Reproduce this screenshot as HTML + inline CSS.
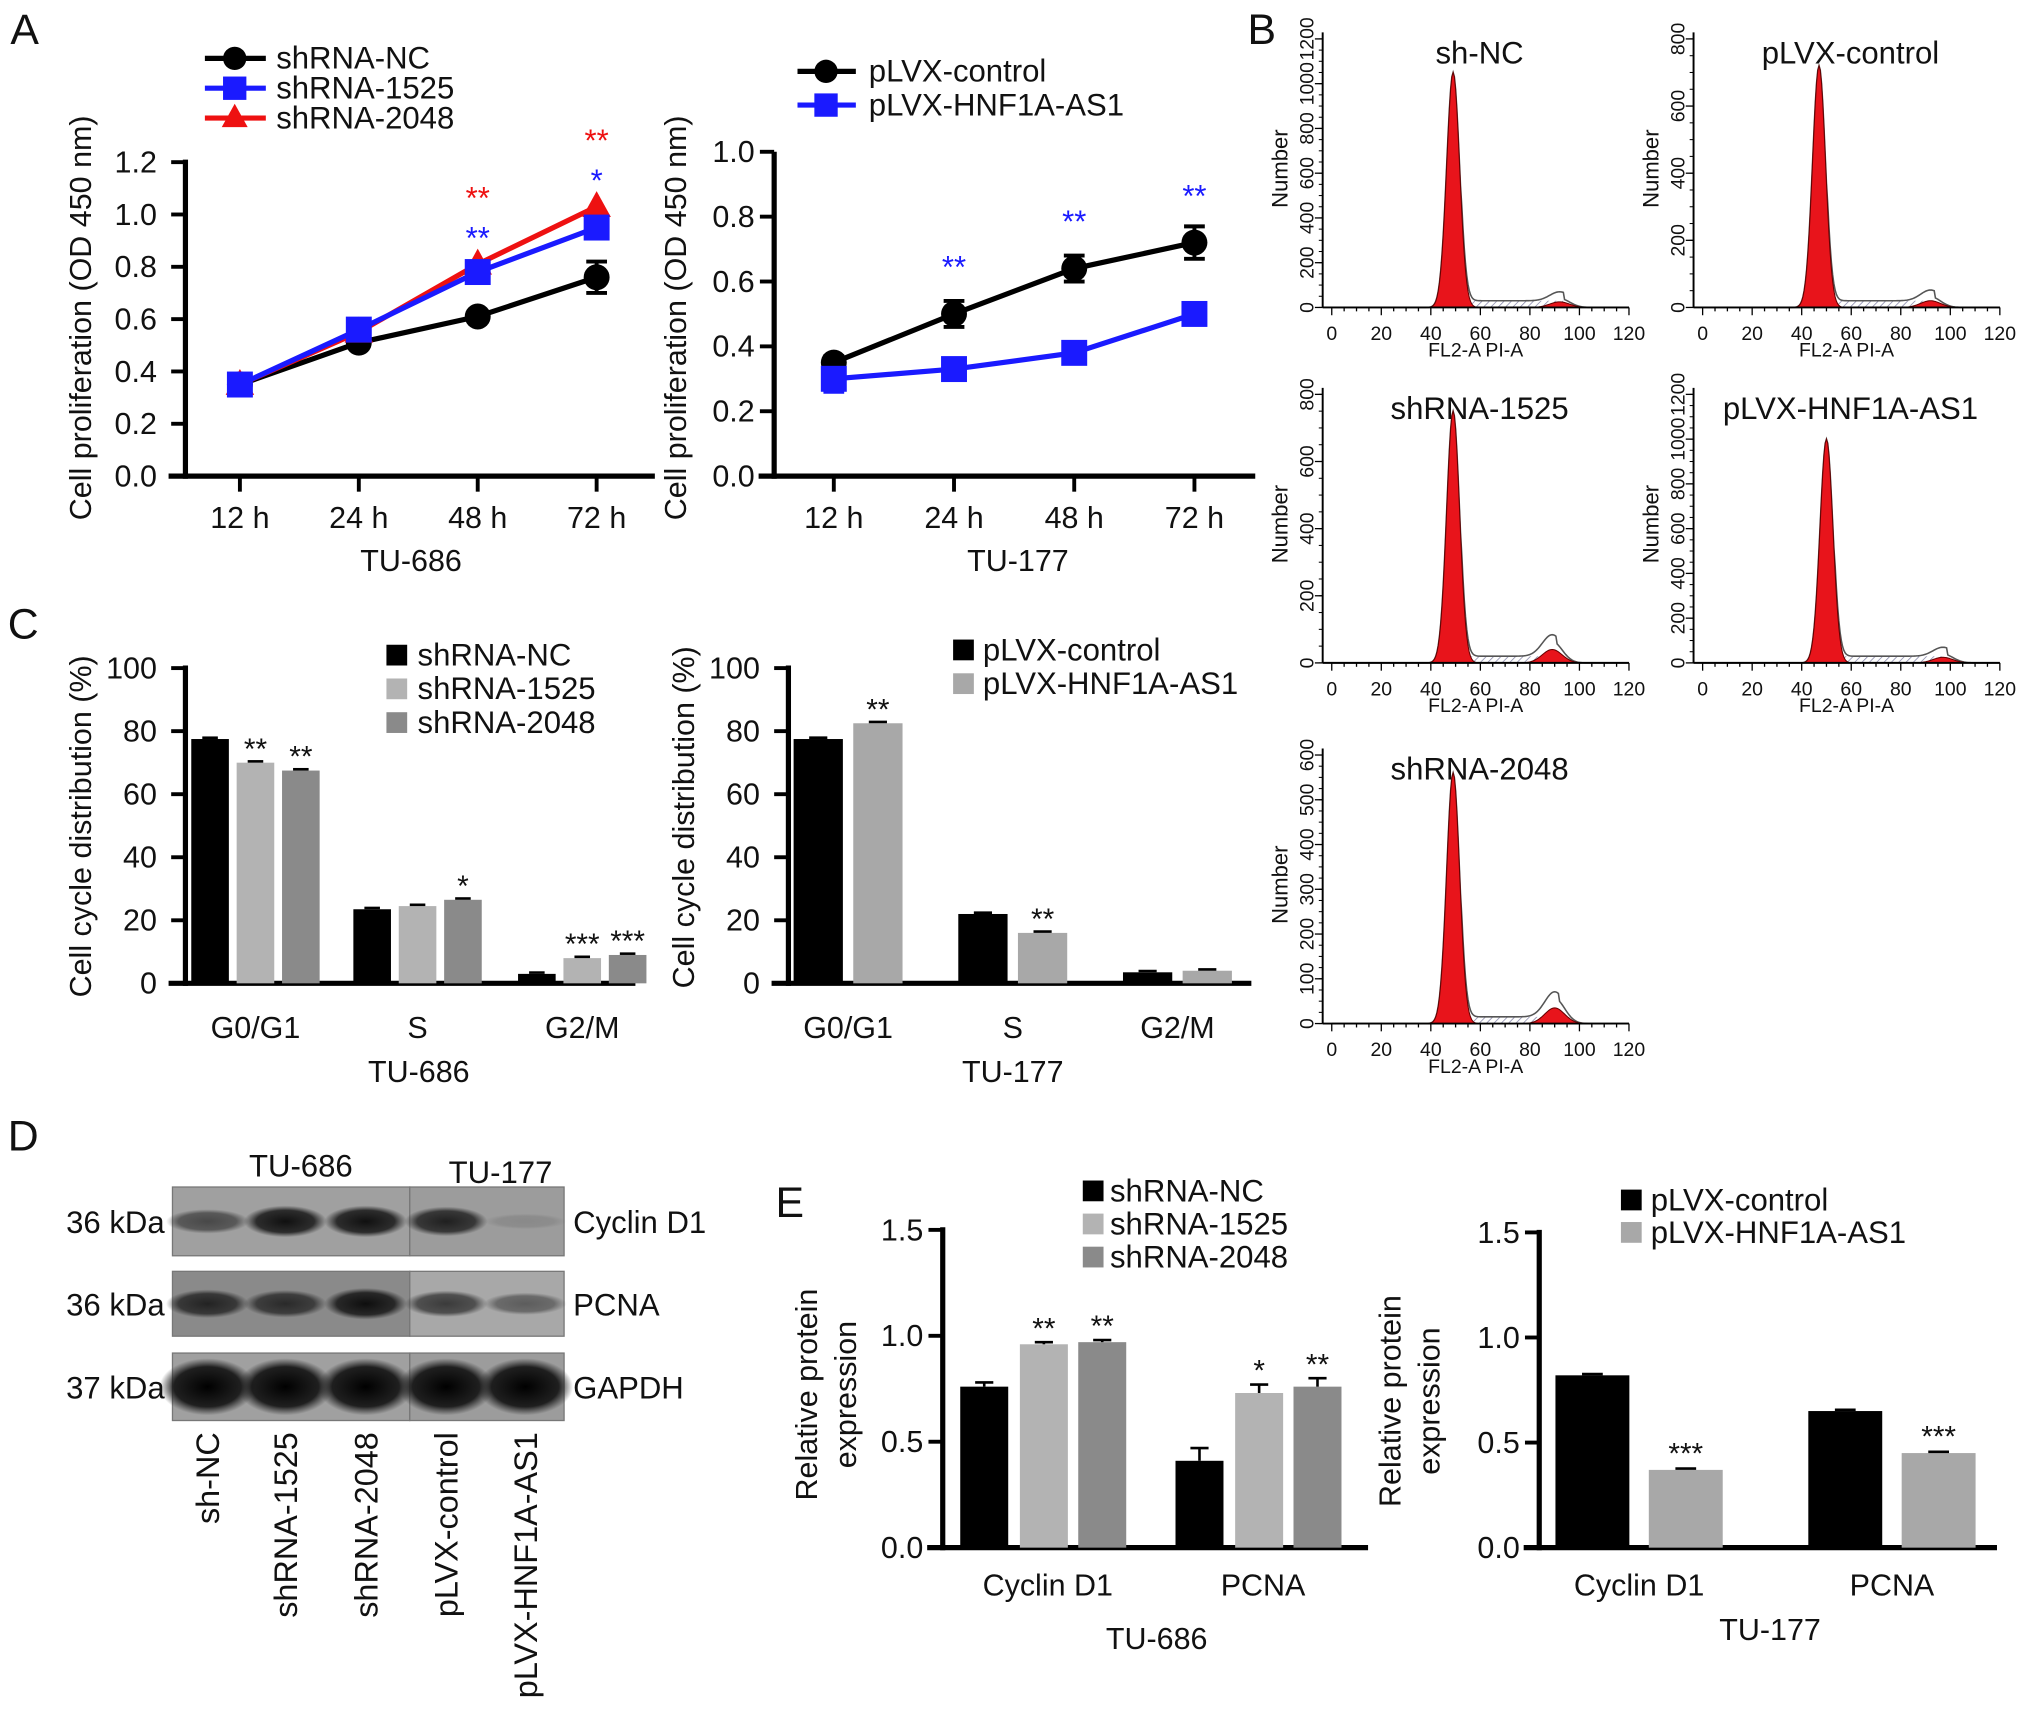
<!DOCTYPE html>
<html><head><meta charset="utf-8">
<style>
html,body{margin:0;padding:0;background:#fff;}
svg{display:block;font-family:"Liberation Sans",Arial,sans-serif;}
</style></head>
<body>
<svg id="fig" width="2032" height="1715" viewBox="0 0 1567 1322" preserveAspectRatio="none" xmlns="http://www.w3.org/2000/svg">
<defs>
<radialGradient id="band" cx="50%" cy="50%" r="50%">
<stop offset="0%" stop-color="#000" stop-opacity="1"/>
<stop offset="70%" stop-color="#111" stop-opacity="0.9"/>
<stop offset="100%" stop-color="#222" stop-opacity="0"/>
</radialGradient>
<pattern id="hatch" width="4" height="4" patternUnits="userSpaceOnUse" patternTransform="rotate(45)">
<rect width="4" height="4" fill="#fff"/><line x1="0" y1="0" x2="0" y2="4" stroke="#8888aa" stroke-width="1.2"/>
</pattern>
</defs>
<rect x="0" y="0" width="1567" height="1322" fill="#fff"/>
</svg>
<script>
// ---- Panel A data ----
const timeCats = ["12 h","24 h","48 h","72 h"];
const aTicksL = [0,0.2,0.4,0.6,0.8,1.0,1.2];
const aNC = [0.35,0.51,0.61,0.76];
const aNCerr = [0.03,0.02,0.02,0.06];
const a1525 = [0.35,0.56,0.78,0.95];
const a2048 = [0.35,0.55,0.81,1.03];
const aStars2048 = ["","","**","**"];
const aStars1525 = ["","","**","*"];
const aTicksR = [0,0.2,0.4,0.6,0.8,1.0];
const aCtrl = [0.35,0.50,0.64,0.72];
const aCtrlErr = [0.02,0.04,0.04,0.05];
const aHNF = [0.30,0.33,0.38,0.50];
const aHNFerr = [0.04,0.03,0.03,0.03];
const aStarsHNF = ["","**","**","**"];
// ---- Panel C data ----
const phaseCats = ["G0/G1","S","G2/M"];
const cTicks = [0,20,40,60,80,100];
const cNC = [77.5,23.5,3];
const c1525 = [70,24.5,8];
const c2048 = [67.5,26.5,9];
const cStars1525 = ["**","","***"];
const cStars2048 = ["**","*","***"];
const cCtrl = [77.5,22,3.5];
const cHNF = [82.5,16,4];
const cStarsHNF = ["**","**",""];
// ---- Panel E data ----
const protCats = ["Cyclin D1","PCNA"];
const eTicks = [0,0.5,1.0,1.5];
const eNC = [0.76,0.41];
const eNCerr = [0.02,0.06];
const e1525 = [0.96,0.73];
const e1525err = [0.01,0.04];
const e2048 = [0.97,0.76];
const e2048err = [0.01,0.04];
const eStars1525 = ["**","*"];
const eStars2048 = ["**","**"];
const eCtrl = [0.82,0.65];
const eHNF = [0.37,0.45];
const eStarsHNF = ["***","***"];
// ---- Panel B data (peak parameters) ----
const histTitles = ["sh-NC","pLVX-control","shRNA-1525","pLVX-HNF1A-AS1","shRNA-2048"];
const histYmax = [1200,800,800,1200,600];
const histYstep = [200,200,200,200,100];
const histG1pos = [49,47,49,50,49];
const histG1peak = [1050,720,750,1000,560];
const histG2pos = [92,92,89,97,90];
const histG2peak = [25,20,40,25,35];
// ---- Panel D data (band intensities 0..1) ----
const laneNames = ["sh-NC","shRNA-1525","shRNA-2048","pLVX-control","pLVX-HNF1A-AS1"];
const blotRows = ["Cyclin D1","PCNA","GAPDH"];
const blotKda = ["36 kDa","36 kDa","37 kDa"];
const bandCyclin = [0.55,0.9,0.9,0.8,0.12];
const bandPCNA = [0.75,0.7,0.9,0.65,0.45];
const bandGAPDH = [1,1,1,1,1];

const svg = document.getElementById('fig');
const NS = "http://www.w3.org/2000/svg";
const TF = 23.5;
function mk(tag, attrs, name){
  const e = document.createElementNS(NS, tag);
  for (const k in attrs) e.setAttribute(k, attrs[k]);
  
  
  svg.appendChild(e);
  return e;
}
function txt(x,y,s,size,name,opts){
  opts = opts||{};
  const a = {x:x,y:y,'font-size':size,'text-anchor':opts.anchor||'middle',fill:opts.fill||'#111'};
  if (opts.rot) a.transform = 'rotate(' + opts.rot + ' ' + x + ' ' + y + ')';
  const t = mk('text', a, name);
  t.textContent = s;
  return t;
}
function line(x1,y1,x2,y2,w,name,col){
  return mk('line',{x1:x1,y1:y1,x2:x2,y2:y2,stroke:col||'#000','stroke-width':w},name);
}

// panel letters
txt(8,34,"A",33,"panel-label-a",{anchor:'start'});
txt(962,34,"B",33,"panel-label-b",{anchor:'start'});
txt(6,492,"C",33,"panel-label-c",{anchor:'start'});
txt(6,887,"D",33,"panel-label-d",{anchor:'start'});
txt(598,938,"E",33,"panel-label-e",{anchor:'start'});

// ===== Panel A left =====
(function(){
  const X = i => 185 + i*91.7;
  const Y = v => 367 - v/1.2*242;
  line(143,123,143,369,4,"a-left-y-axis");
  line(130,367,505,367,4,"a-left-x-axis");
  aTicksL.forEach(v=>{
    line(132,Y(v),143,Y(v),3,"a-left-y-tick");
    txt(121,Y(v)+8,v.toFixed(1),TF,"a-left-y-tick-label",{anchor:'end'});
  });
  timeCats.forEach((c,i)=>{
    line(X(i),367,X(i),379,3,"a-left-x-tick");
    txt(X(i),407,c,TF,"a-left-x-tick-label");
  });
  txt(317,440,"TU-686",TF,"a-left-x-title");
  txt(70,245,"Cell proliferation (OD 450 nm)",TF,"a-left-y-title",{rot:-90});
  mk('polyline',{points:aNC.map((v,i)=>X(i)+','+Y(v)).join(' '),fill:'none',stroke:'#000','stroke-width':4},"a-left-line-nc");
  mk('polyline',{points:a2048.map((v,i)=>X(i)+','+Y(v)).join(' '),fill:'none',stroke:'#ee1111','stroke-width':4},"a-left-line-2048");
  mk('polyline',{points:a1525.map((v,i)=>X(i)+','+Y(v)).join(' '),fill:'none',stroke:'#1a1aff','stroke-width':4},"a-left-line-1525");
  aNC.forEach((v,i)=>{
    line(X(i),Y(v+aNCerr[i]),X(i),Y(v-aNCerr[i]),3,"a-left-errorbar");
    line(X(i)-8,Y(v+aNCerr[i]),X(i)+8,Y(v+aNCerr[i]),3,"a-left-errorcap");
    line(X(i)-8,Y(v-aNCerr[i]),X(i)+8,Y(v-aNCerr[i]),3,"a-left-errorcap");
  });
  aNC.forEach((v,i)=>mk('circle',{cx:X(i),cy:Y(v),r:10,fill:'#000'},"a-left-point-nc"));
  a2048.forEach((v,i)=>mk('polygon',{points:X(i)+','+(Y(v)-12)+' '+(X(i)-11)+','+(Y(v)+8)+' '+(X(i)+11)+','+(Y(v)+8),fill:'#ee1111'},"a-left-point-2048"));
  a1525.forEach((v,i)=>mk('rect',{x:X(i)-10,y:Y(v)-10,width:20,height:20,fill:'#1a1aff'},"a-left-point-1525"));
  a2048.forEach((v,i)=>{ const top = Math.max(v,a1525[i]); if(aStars2048[i]) txt(X(i),Y(top)-43,aStars2048[i],24,"a-left-star-2048",{fill:'#ee1111'}); });
  a1525.forEach((v,i)=>{ const top = Math.max(v,a2048[i]); if(aStars1525[i]) txt(X(i),Y(top)-12,aStars1525[i],24,"a-left-star-1525",{fill:'#1a1aff'}); });
  [["shRNA-NC",'#000','c'],["shRNA-1525",'#1a1aff','s'],["shRNA-2048",'#ee1111','t']].forEach((L,k)=>{
    const y = 45 + k*23;
    line(158,y,205,y,4,"a-left-legend-line",L[1]);
    if (L[2]==='c') mk('circle',{cx:181,cy:y,r:9,fill:L[1]},"a-left-legend-marker");
    if (L[2]==='s') mk('rect',{x:172,y:y-9,width:18,height:18,fill:L[1]},"a-left-legend-marker");
    if (L[2]==='t') mk('polygon',{points:'181,'+(y-11)+' 171,'+(y+7)+' 191,'+(y+7),fill:L[1]},"a-left-legend-marker");
    txt(213,y+8,L[0],24,"a-left-legend-label",{anchor:'start'});
  });
})();

// ===== Panel A right =====
(function(){
  const X = i => 643 + i*92.7;
  const Y = v => 367 - v*250;
  line(597,117,597,369,4,"a-right-y-axis");
  line(585,367,968,367,4,"a-right-x-axis");
  aTicksR.forEach(v=>{
    line(586,Y(v),597,Y(v),3,"a-right-y-tick");
    txt(582,Y(v)+8,v.toFixed(1),TF,"a-right-y-tick-label",{anchor:'end'});
  });
  timeCats.forEach((c,i)=>{
    line(X(i),367,X(i),379,3,"a-right-x-tick");
    txt(X(i),407,c,TF,"a-right-x-tick-label");
  });
  txt(785,440,"TU-177",TF,"a-right-x-title");
  txt(529,245,"Cell proliferation (OD 450 nm)",TF,"a-right-y-title",{rot:-90});
  mk('polyline',{points:aCtrl.map((v,i)=>X(i)+','+Y(v)).join(' '),fill:'none',stroke:'#000','stroke-width':4},"a-right-line-control");
  mk('polyline',{points:aHNF.map((v,i)=>X(i)+','+Y(v)).join(' '),fill:'none',stroke:'#1a1aff','stroke-width':4},"a-right-line-hnf");
  aCtrl.forEach((v,i)=>{
    line(X(i),Y(v+aCtrlErr[i]),X(i),Y(v-aCtrlErr[i]),3,"a-right-errorbar");
    line(X(i)-8,Y(v+aCtrlErr[i]),X(i)+8,Y(v+aCtrlErr[i]),3,"a-right-errorcap");
    line(X(i)-8,Y(v-aCtrlErr[i]),X(i)+8,Y(v-aCtrlErr[i]),3,"a-right-errorcap");
  });
  aHNF.forEach((v,i)=>{
    line(X(i),Y(v+aHNFerr[i]),X(i),Y(v-aHNFerr[i]),3,"a-right-errorbar",'#1a1aff');
    line(X(i)-8,Y(v-aHNFerr[i]),X(i)+8,Y(v-aHNFerr[i]),3,"a-right-errorcap",'#1a1aff');
  });
  aCtrl.forEach((v,i)=>mk('circle',{cx:X(i),cy:Y(v),r:10,fill:'#000'},"a-right-point-control"));
  aHNF.forEach((v,i)=>mk('rect',{x:X(i)-10,y:Y(v)-10,width:20,height:20,fill:'#1a1aff'},"a-right-point-hnf"));
  aStarsHNF.forEach((s,i)=>{ if(s) txt(X(i),Y(aCtrl[i])-28,s,24,"a-right-star",{fill:'#1a1aff'}); });
  [["pLVX-control",'#000','c'],["pLVX-HNF1A-AS1",'#1a1aff','s']].forEach((L,k)=>{
    const y = 55 + k*26;
    line(615,y,660,y,4,"a-right-legend-line",L[1]);
    if (L[2]==='c') mk('circle',{cx:637,cy:y,r:9,fill:L[1]},"a-right-legend-marker");
    else mk('rect',{x:628,y:y-9,width:18,height:18,fill:L[1]},"a-right-legend-marker");
    txt(670,y+8,L[0],24,"a-right-legend-label",{anchor:'start'});
  });
})();

// ===== Panel B histograms =====
(function(){
  const origins = [[1027,237],[1313,237],[1027,511],[1313,511],[1027,789]];
  const plotH = 207;
  histTitles.forEach((title,p)=>{
    const x0 = origins[p][0], base = origins[p][1];
    const X = u => x0 + u*1.91;
    const Y = v => base - v/histYmax[p]*plotH;
    let fill = [], outline = [], hatch = [];
    for (let u=0; u<=120; u+=0.5){
      const g1 = histG1peak[p]*Math.exp(-Math.pow((u-histG1pos[p])/2.6,2)/2);
      const g2 = histG2peak[p]*Math.exp(-Math.pow((u-histG2pos[p])/4,2)/2);
      const s = (u>histG1pos[p]+3 && u<histG2pos[p]+2) ? histYmax[p]*0.025 : 0;
      fill.push(X(u)+','+Y(g1+g2));
      outline.push(X(u)+','+Y(g1+g2*1.6+s));
      hatch.push(X(u)+','+Y(Math.max(g1+g2, s)));
    }
    mk('polygon',{points:X(0)+','+base+' '+hatch.join(' ')+' '+X(120)+','+base,fill:'url(#hatch)',stroke:'none'},"b-hist-s-phase");
    mk('polyline',{points:outline.join(' '),fill:'none',stroke:'#555','stroke-width':1.2},"b-hist-outline");
    mk('polygon',{points:X(0)+','+base+' '+fill.join(' ')+' '+X(120)+','+base,fill:'#e8141b',stroke:'#600','stroke-width':0.8},"b-hist-fill");
    line(x0-7,base,x0-7,base-plotH-5,1.5,"b-y-axis");
    line(x0-7,base,X(120),base,1.5,"b-x-axis");
    for (let u=0; u<=120; u+=5) line(X(u),base,X(u),base+(u%20===0?6:3),1,"b-x-tick");
    for (let u=0; u<=120; u+=20) txt(X(u),base+25,String(u),15,"b-x-tick-label");
    for (let v=0; v<=histYmax[p]; v+=histYstep[p]){
      line(x0-13,Y(v),x0-7,Y(v),1,"b-y-tick");
      txt(x0-14,Y(v),String(v),15,"b-y-tick-label",{rot:-90});
    }
    for (let v=0; v<=histYmax[p]; v+=histYstep[p]/4) line(x0-10,Y(v),x0-7,Y(v),0.8,"b-y-minor-tick");
    txt(x0+111,base+38,"FL2-A PI-A",15,"b-x-title");
    txt(x0-34,base-107,"Number",17,"b-y-title",{rot:-90});
    txt(x0+114,base-188,title,24,"b-title");
  });
})();

// ===== Panel C left =====
(function(){
  const Y = v => 758 - v*2.43;
  const C = [197,322,449];
  line(143,513,143,760,4,"c-left-y-axis");
  line(130,758,490,758,4,"c-left-x-axis");
  cTicks.forEach(v=>{
    line(132,Y(v),143,Y(v),3,"c-left-y-tick");
    txt(121,Y(v)+8,String(v),TF,"c-left-y-tick-label",{anchor:'end'});
  });
  phaseCats.forEach((c,i)=>txt(C[i],800,c,TF,"c-left-x-tick-label"));
  txt(323,834,"TU-686",TF,"c-left-x-title");
  txt(70,637,"Cell cycle distribution (%)",TF,"c-left-y-title",{rot:-90});
  const sets = [[cNC,'#000',-35,null],[c1525,'#b3b3b3',0,cStars1525],[c2048,'#8a8a8a',35,cStars2048]];
  sets.forEach(([d,col,off,st])=>{
    d.forEach((v,i)=>{
      mk('rect',{x:C[i]+off-14.5,y:Y(v),width:29,height:758-Y(v),fill:col},"c-left-bar");
      line(C[i]+off-6,Y(v)-1,C[i]+off+6,Y(v)-1,2,"c-left-errorcap");
      if (st && st[i]) txt(C[i]+off,Y(v)-3,st[i],23,"c-left-star");
    });
  });
  [["shRNA-NC",'#000'],["shRNA-1525",'#b3b3b3'],["shRNA-2048",'#8a8a8a']].forEach((L,k)=>{
    const y = 505 + k*26;
    mk('rect',{x:298,y:y-8,width:16,height:16,fill:L[1]},"c-left-legend-swatch");
    txt(322,y+8,L[0],24,"c-left-legend-label",{anchor:'start'});
  });
})();

// ===== Panel C right =====
(function(){
  const Y = v => 758 - v*2.43;
  const C = [654,781,908];
  line(608,513,608,760,4,"c-right-y-axis");
  line(595,758,965,758,4,"c-right-x-axis");
  cTicks.forEach(v=>{
    line(597,Y(v),608,Y(v),3,"c-right-y-tick");
    txt(586,Y(v)+8,String(v),TF,"c-right-y-tick-label",{anchor:'end'});
  });
  phaseCats.forEach((c,i)=>txt(C[i],800,c,TF,"c-right-x-tick-label"));
  txt(781,834,"TU-177",TF,"c-right-x-title");
  txt(535,630,"Cell cycle distribution (%)",TF,"c-right-y-title",{rot:-90});
  [[cCtrl,'#000',-23,null],[cHNF,'#a8a8a8',23,cStarsHNF]].forEach(([d,col,off,st])=>{
    d.forEach((v,i)=>{
      mk('rect',{x:C[i]+off-19,y:Y(v),width:38,height:758-Y(v),fill:col},"c-right-bar");
      line(C[i]+off-7,Y(v)-1,C[i]+off+7,Y(v)-1,2,"c-right-errorcap");
      if (st && st[i]) txt(C[i]+off,Y(v)-3,st[i],23,"c-right-star");
    });
  });
  [["pLVX-control",'#000'],["pLVX-HNF1A-AS1",'#a8a8a8']].forEach((L,k)=>{
    const y = 501 + k*26;
    mk('rect',{x:735,y:y-8,width:16,height:16,fill:L[1]},"c-right-legend-swatch");
    txt(758,y+8,L[0],24,"c-right-legend-label",{anchor:'start'});
  });
})();

// ===== Panel D western blot =====
(function(){
  const rowsY = [[915,968],[980,1030],[1043,1095]];
  const lanes = [160,220,282,344,405];
  const intens = [bandCyclin,bandPCNA,bandGAPDH];
  rowsY.forEach((r,k)=>{
    mk('rect',{x:133,y:r[0],width:183,height:r[1]-r[0],fill:k===1?'#8a8a8a':'#a0a0a0',stroke:'#777','stroke-width':1},"d-blot-strip");
    mk('rect',{x:316,y:r[0],width:119,height:r[1]-r[0],fill:k===1?'#a8a8a8':'#9c9c9c',stroke:'#777','stroke-width':1},"d-blot-strip");
    const cy = (r[0]+r[1])/2;
    lanes.forEach((lx,i)=>{
      const a = intens[k][i];
      const h = k===2 ? 44 : 10 + a*16;
      mk('ellipse',{cx:lx,cy:cy,rx:k===2?37:32,ry:h/2,fill:'url(#band)',opacity:a},"d-band");
    });
    txt(127,cy+9,blotKda[k],24,"d-kda-label",{anchor:'end'});
    txt(442,cy+9,blotRows[k],24,"d-protein-label",{anchor:'start'});
  });
  txt(232,907,"TU-686",24,"d-group-label");
  txt(386,912,"TU-177",24,"d-group-label");
  laneNames.forEach((n,i)=>txt(lanes[i]+9,1104,n,25,"d-lane-label",{anchor:'end',rot:-90}));
})();

// ===== Panel E left =====
(function(){
  const Y = v => 1193 - v*163.3;
  const C = [805,971];
  line(727,946,727,1195,4,"e-left-y-axis");
  line(715,1193,1055,1193,4,"e-left-x-axis");
  eTicks.forEach(v=>{
    line(716,Y(v),727,Y(v),3,"e-left-y-tick");
    txt(712,Y(v)+8,v.toFixed(1),TF,"e-left-y-tick-label",{anchor:'end'});
  });
  protCats.forEach((c,i)=>txt(C[i]+3,1230,c,TF,"e-left-x-tick-label"));
  txt(892,1271,"TU-686",TF,"e-left-x-title");
  txt(630,1075,"Relative protein",TF,"e-left-y-title",{rot:-90});
  txt(660,1075,"expression",TF,"e-left-y-title",{rot:-90});
  [[eNC,eNCerr,'#000',-46,null],[e1525,e1525err,'#b3b3b3',0,eStars1525],[e2048,e2048err,'#8a8a8a',45,eStars2048]].forEach(([d,er,col,off,st])=>{
    d.forEach((v,i)=>{
      const cx = C[i]+off;
      mk('rect',{x:cx-18.5,y:Y(v),width:37,height:1193-Y(v),fill:col},"e-left-bar");
      line(cx,Y(v),cx,Y(v+er[i]),2,"e-left-errorbar");
      line(cx-7,Y(v+er[i]),cx+7,Y(v+er[i]),2,"e-left-errorcap");
      if (st && st[i]) txt(cx,Y(v+er[i])-3,st[i],23,"e-left-star");
    });
  });
  [["shRNA-NC",'#000'],["shRNA-1525",'#b3b3b3'],["shRNA-2048",'#8a8a8a']].forEach((L,k)=>{
    const y = 918 + k*25.5;
    mk('rect',{x:835,y:y-8,width:16,height:16,fill:L[1]},"e-left-legend-swatch");
    txt(856,y+8,L[0],24,"e-left-legend-label",{anchor:'start'});
  });
})();

// ===== Panel E right =====
(function(){
  const Y = v => 1193 - v*162;
  const C = [1264,1459];
  line(1187,948,1187,1195,4,"e-right-y-axis");
  line(1175,1193,1540,1193,4,"e-right-x-axis");
  eTicks.forEach(v=>{
    line(1176,Y(v),1187,Y(v),3,"e-right-y-tick");
    txt(1172,Y(v)+8,v.toFixed(1),TF,"e-right-y-tick-label",{anchor:'end'});
  });
  protCats.forEach((c,i)=>txt(C[i],1230,c,TF,"e-right-x-tick-label"));
  txt(1365,1264,"TU-177",TF,"e-right-x-title");
  txt(1080,1080,"Relative protein",TF,"e-right-y-title",{rot:-90});
  txt(1110,1080,"expression",TF,"e-right-y-title",{rot:-90});
  [[eCtrl,'#000',-36,null],[eHNF,'#a8a8a8',36,eStarsHNF]].forEach(([d,col,off,st])=>{
    d.forEach((v,i)=>{
      const cx = C[i]+off;
      mk('rect',{x:cx-28.5,y:Y(v),width:57,height:1193-Y(v),fill:col},"e-right-bar");
      line(cx-8,Y(v)-1,cx+8,Y(v)-1,2,"e-right-errorcap");
      if (st && st[i]) txt(cx,Y(v)-5,st[i],23,"e-right-star");
    });
  });
  [["pLVX-control",'#000'],["pLVX-HNF1A-AS1",'#a8a8a8']].forEach((L,k)=>{
    const y = 925 + k*25;
    mk('rect',{x:1250,y:y-8,width:16,height:16,fill:L[1]},"e-right-legend-swatch");
    txt(1273,y+8,L[0],24,"e-right-legend-label",{anchor:'start'});
  });
})();
</script>
</body></html>
